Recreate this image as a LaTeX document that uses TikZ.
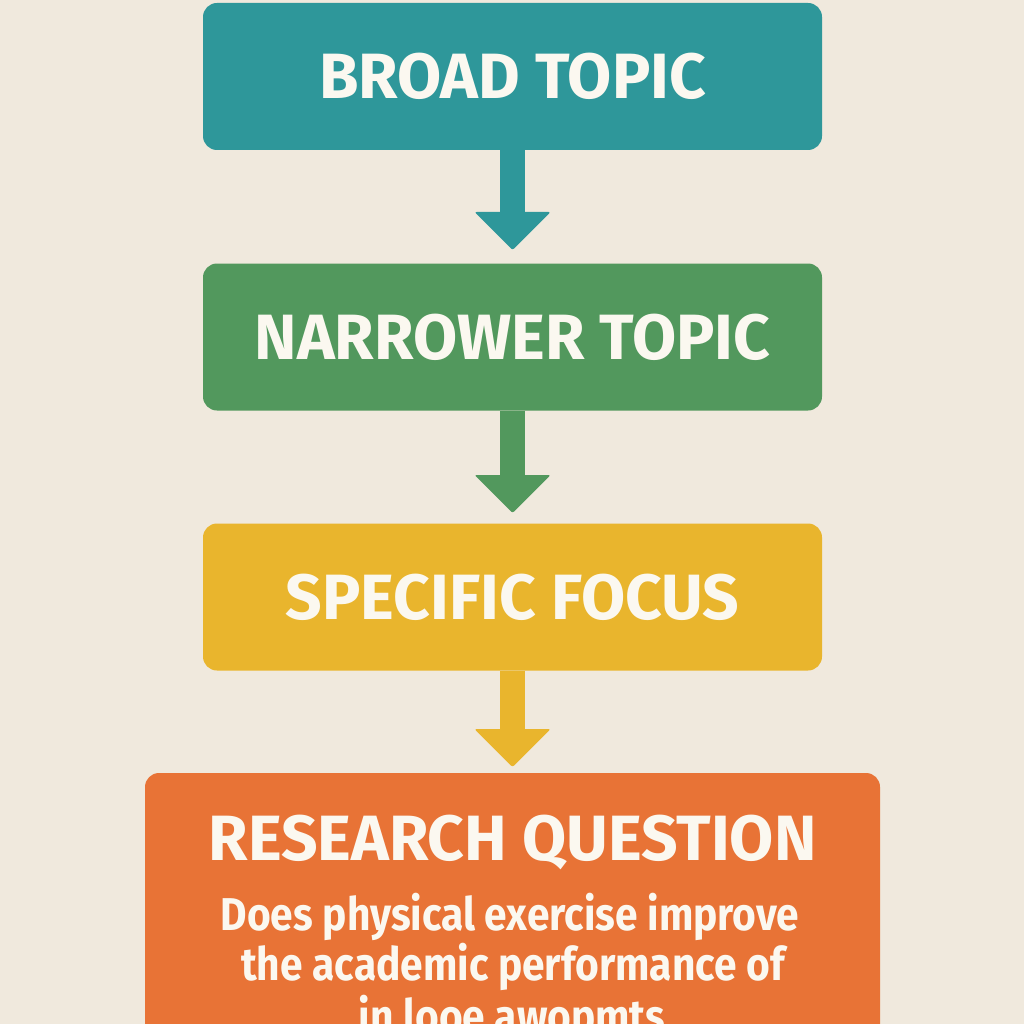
\documentclass[tikz,border=0pt]{standalone}
\usepackage{fontspec}
\setmainfont{Fira Sans}
\usetikzlibrary{calc}
\definecolor{bgc}{HTML}{F0E9DD}
\definecolor{tealc}{HTML}{2E979A}
\definecolor{greenc}{HTML}{52985D}
\definecolor{yellowc}{HTML}{E9B52D}
\definecolor{orangec}{HTML}{E87336}
\definecolor{txtc}{HTML}{FBF8F0}
\tikzset{
  stepbox/.style={rounded corners=14pt, minimum width=619pt, minimum height=147pt, inner sep=0pt, text=txtc, font=\fontsize{64}{66}\selectfont\bfseries},
  shaft/.style={line width=25pt},
  headtip/.style={rounded corners=2pt},
  bodytext/.style={text=txtc, inner sep=0pt, xscale=0.885, font=\fontsize{46}{52}\selectfont\bfseries},
}
\begin{document}
\begin{tikzpicture}[x=1pt,y=-1pt]
\useasboundingbox (0,0) rectangle (1024,1024);
\clip (0,0) rectangle (1024,1024);
\fill[bgc] (0,0) rectangle (1024,1024);
\node[stepbox, fill=tealc] (b1) at (512.5,76.5) {BROAD TOPIC};
\node[stepbox, fill=greenc] (b2) at (512.5,337) {NARROWER TOPIC};
\node[stepbox, fill=yellowc] (b3) at (512.5,597) {SPECIFIC FOCUS};
\node[stepbox, fill=orangec, minimum width=735pt, minimum height=340pt] (b4) at (512.5,943) {};
\coordinate (t1) at (512.5,250);
\coordinate (t2) at (512.5,513);
\coordinate (t3) at (512.5,767);
\draw[shaft, tealc] (b1.south) -- ($(t1)+(0,-37)$);
\fill[headtip, tealc] (t1) -- ($(t1)+(-38,-38)$) -- ($(t1)+(38,-38)$) -- cycle;
\draw[shaft, greenc] (b2.south) -- ($(t2)+(0,-37)$);
\fill[headtip, greenc] (t2) -- ($(t2)+(-38,-38)$) -- ($(t2)+(38,-38)$) -- cycle;
\draw[shaft, yellowc] (b3.south) -- ($(t3)+(0,-37)$);
\fill[headtip, yellowc] (t3) -- ($(t3)+(-38,-38)$) -- ($(t3)+(38,-38)$) -- cycle;
\node[text=txtc, inner sep=0pt, font=\fontsize{64}{66}\selectfont\bfseries, anchor=base] (rq) at (512.5,860) {RESEARCH QUESTION};
\node[bodytext, anchor=base] (l1) at (510,930) {Does physical exercise improve};
\node[bodytext, anchor=base] (l2) at (513,980) {the academic performance of};
\node[bodytext, anchor=base] (l3) at (512,1032) {in looe awopmts};
\end{tikzpicture}
\end{document}
